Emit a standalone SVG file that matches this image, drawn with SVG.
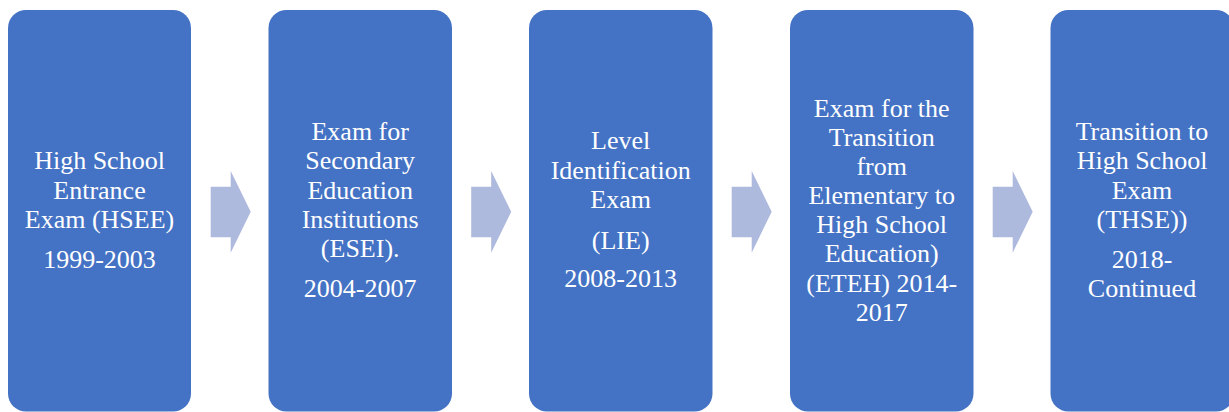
<svg xmlns="http://www.w3.org/2000/svg" width="1229" height="412" viewBox="0 0 1229 412">
<style>
.box{fill:#4472C4;}
.arr{fill:#AEB9DE;}
text{font-family:"Liberation Serif","Times New Roman",serif;font-size:26px;fill:#FFFFFF;text-anchor:middle;}
</style>
<rect width="1229" height="412" fill="#FFFFFF"/>
<g id="connectors">
<polygon class="arr" points="210.7,186.7 230.7,186.7 230.7,171 250.7,211.7 230.7,252.7 230.7,237.3 210.7,237.3"/>
<polygon class="arr" points="471.2,186.7 491.2,186.7 491.2,171 511.2,211.7 491.2,252.7 491.2,237.3 471.2,237.3"/>
<polygon class="arr" points="731.7,186.7 751.7,186.7 751.7,171 771.7,211.7 751.7,252.7 751.7,237.3 731.7,237.3"/>
<polygon class="arr" points="992.7,186.7 1012.7,186.7 1012.7,171 1032.7,211.7 1012.7,252.7 1012.7,237.3 992.7,237.3"/>
</g>
<g id="node1">
<rect class="box" x="8" y="10" width="183" height="401.5" rx="18"/>
<text x="99.5" y="169.3">High School</text>
<text x="99.5" y="199">Entrance</text>
<text x="99.5" y="228.3">Exam (HSEE)</text>
<text x="99.5" y="268.3">1999-2003</text>
</g>
<g id="node2">
<rect class="box" x="268.5" y="10" width="183.5" height="401.5" rx="18"/>
<text x="360.2" y="140">Exam for</text>
<text x="360.2" y="169.3">Secondary</text>
<text x="360.2" y="199">Education</text>
<text x="360.2" y="228">Institutions</text>
<text x="360.2" y="257">(ESEI).</text>
<text x="360.2" y="296.7">2004-2007</text>
</g>
<g id="node3">
<rect class="box" x="529" y="10" width="183.5" height="401.5" rx="18"/>
<text x="620.7" y="149.3">Level</text>
<text x="620.7" y="179">Identification</text>
<text x="620.7" y="207.5">Exam</text>
<text x="620.7" y="249.3">(LIE)</text>
<text x="620.7" y="287.3">2008-2013</text>
</g>
<g id="node4">
<rect class="box" x="790" y="10" width="183.5" height="401.5" rx="18"/>
<text x="881.7" y="116.7">Exam for the</text>
<text x="881.7" y="145.7">Transition</text>
<text x="881.7" y="175">from</text>
<text x="881.7" y="204">Elementary to</text>
<text x="881.7" y="233.3">High School</text>
<text x="881.7" y="262.3">Education)</text>
<text x="881.7" y="291.7">(ETEH) 2014-</text>
<text x="881.7" y="320.7">2017</text>
</g>
<g id="node5">
<rect class="box" x="1050.5" y="10" width="183.5" height="401.5" rx="18"/>
<text x="1142" y="140">Transition to</text>
<text x="1142" y="169.3">High School</text>
<text x="1142" y="199">Exam</text>
<text x="1142" y="228.3">(THSE))</text>
<text x="1142" y="268.3">2018-</text>
<text x="1142" y="297.3">Continued</text>
</g>
</svg>
